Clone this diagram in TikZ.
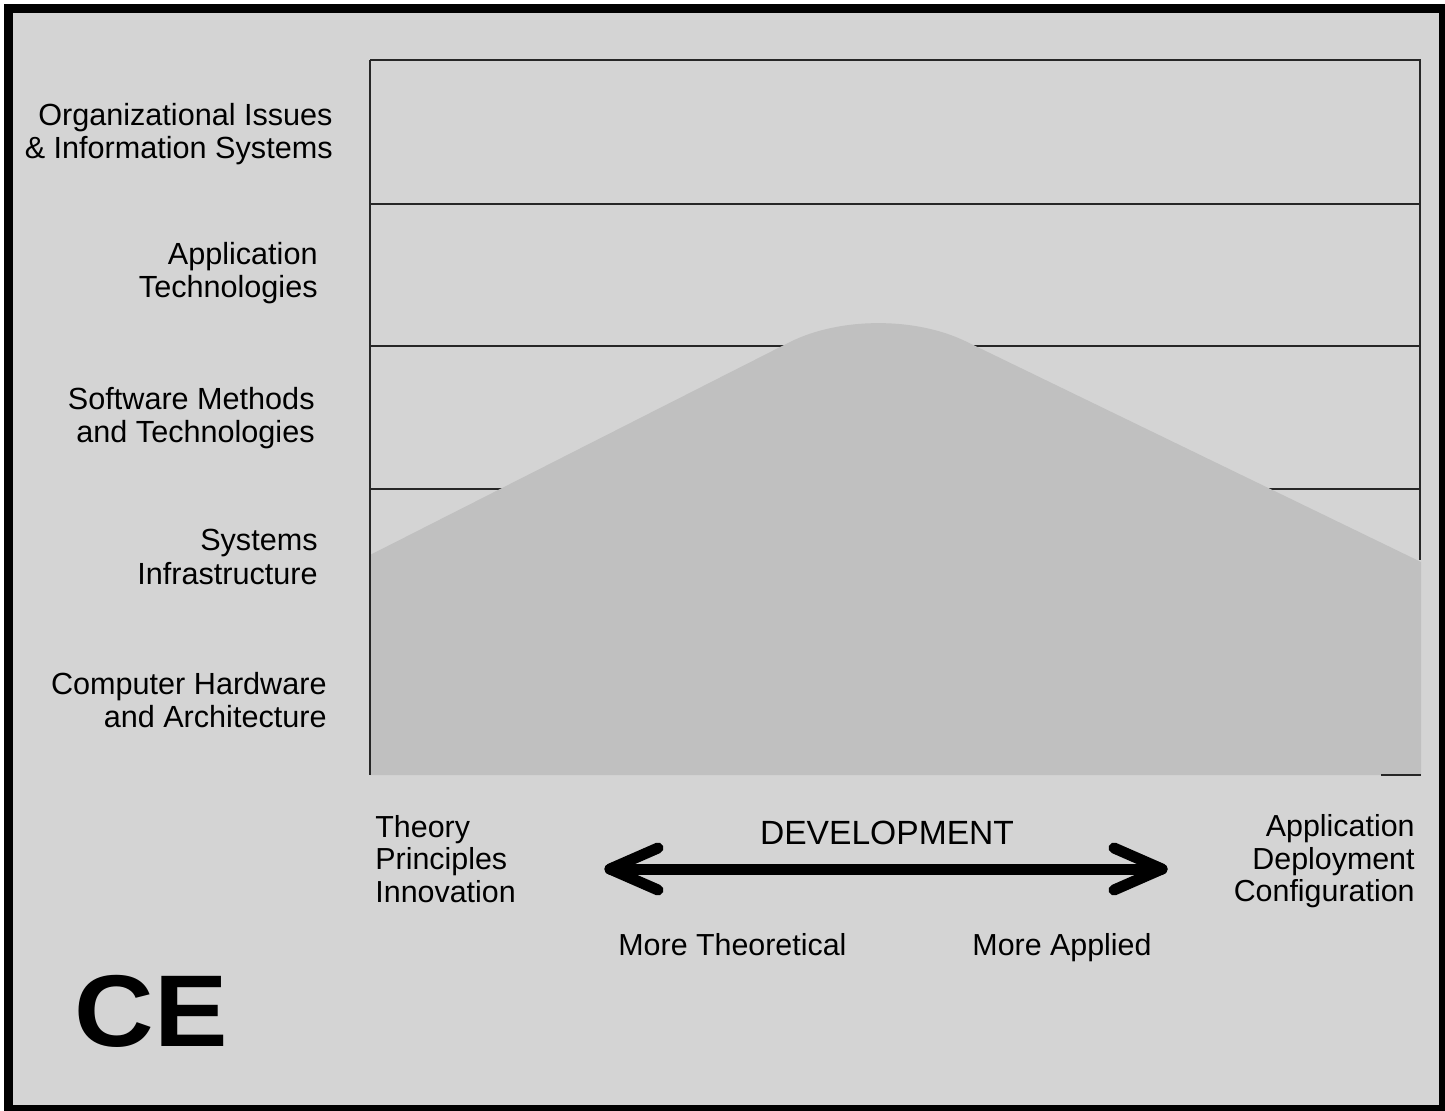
\documentclass[tikz,border=0pt]{standalone}
\usepackage{fontspec}
\setmainfont{Liberation Sans}
\begin{document}
\begin{tikzpicture}[x=0.5pt,y=-0.5pt,
  lbl/.style={inner sep=0pt,font=\fontsize{15.3}{16.8}\selectfont,align=right,anchor=east},
  btm/.style={inner sep=0pt,font=\fontsize{15.2}{16.3}\selectfont},
  grid/.style={draw=black!85,line width=1pt},
  bigarrow/.style={line width=5.5pt,line cap=round,line join=round}]
\definecolor{bgdot}{RGB}{212,212,212}
\definecolor{hill}{RGB}{192,192,192}
\useasboundingbox (0,0) rectangle (1445,1111);
% frame and background
\fill[white] (0,0) rectangle (1445,1111);
\draw[line width=4.5pt,fill=bgdot] (8.5,8.5) rectangle (1443.5,1109.5);
% grid
\coordinate (tl) at (370,60);
\coordinate (tr) at (1420,60);
\draw[grid] (tl) -- (tr) -- (1420,560);
\draw[grid] (370,204) -- (1420,204);
\draw[grid] (370,346) -- (1420,346);
\draw[grid] (370,489) -- (1420,489);
% mountain
\fill[hill] (370,555) -- (790,342) .. controls (840,317) and (915,317) .. (965,341)
  -- (1421,562) -- (1421,775) -- (370,775) -- cycle;
\draw[grid] (tl) -- (370,775);
\draw[grid] (1381,775) -- (1421,775);
% left labels
\node[lbl] (org) at (333,134) {Organizational Issues\\\& Information Systems};
\node[lbl] (app) at (318,273) {Application\\Technologies};
\node[lbl] (sw) at (315,418) {Software Methods\\and Technologies};
\node[lbl] (sys) at (318,557) {Systems\\Infrastructure};
\node[lbl] (hw) at (327,700) {Computer Hardware\\and Architecture};
% bottom texts
\node[btm,align=left,anchor=west] (theory) at (375,859) {Theory\\Principles\\Innovation};
\node[btm,align=right,anchor=east] (applic) at (1415,861.5) {Application\\Deployment\\Configuration};
\node[inner sep=0pt,font=\fontsize{16.8}{18}\selectfont] (dev) at (887,833) {DEVELOPMENT};
\node[btm,anchor=base west] (mt) at (618,955) {More Theoretical};
\node[btm,anchor=base east] (ma) at (1152,955) {More Applied};
\node[inner sep=0pt,font=\fontsize{51}{55}\selectfont\bfseries] (ce) at (151.5,1011.5) {\scalebox{1.08}[1]{CE}};
% arrow
\coordinate (al) at (610,869);
\coordinate (ar) at (1162,869);
\draw[bigarrow] (al) -- (ar);
\draw[bigarrow] (658,848) -- (al) -- (658,890);
\draw[bigarrow] (1114,848) -- (ar) -- (1114,890);
\end{tikzpicture}
\end{document}
